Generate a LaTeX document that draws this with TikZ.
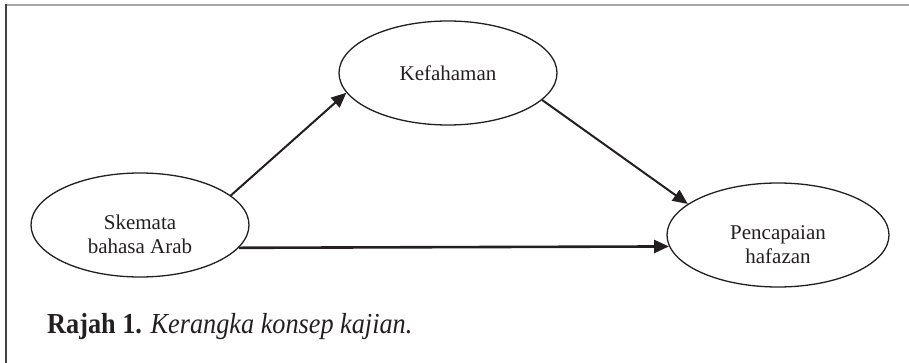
\documentclass[tikz,border=0pt]{standalone}
\usepackage{fontspec}
\setmainfont{Liberation Serif}
\usetikzlibrary{shapes.geometric,arrows.meta}
\definecolor{inkgray}{RGB}{35,31,32}

\begin{document}
\begin{tikzpicture}[x=1pt,y=-1pt,
    concept/.style ={ellipse, draw=inkgray, line width=1.3pt, minimum width=218pt,
                     minimum height=104pt, inner sep=0pt, align=center,
                     text=inkgray, font=\fontsize{21}{24}\selectfont},
    link/.style ={draw=inkgray, line width=2pt, -{Triangle[length=15pt,width=13pt]}}]
   \useasboundingbox (0,0) rectangle (909,363);
   % frame
   \draw[gray!70, line width=1.5pt] (5,5) -- (909,5);
   \draw[inkgray!85, line width=1.5pt] (6,4.3) -- (6,363);
   % ellipses
   \node[concept] (S) at (140,225) {\rule{0pt}{33pt}Skemata\\bahasa Arab};
   \node[concept] (K) at (448,73)  {Kefahaman};
   \node[concept, minimum width=222pt] (P) at (778,235) {\rule{0pt}{33pt}Pencapaian\\hafazan};
   % arrows
   \draw[link] (S.18) to (K.191);
   \draw[link] (K.-16) to (P.161);
   \draw[link, line width=2.6pt] (S.-13) to (P.186);
   % caption
   \node[anchor=base west, inner sep=0pt, text=inkgray] (C) at (47,333)
     {\scalebox{0.905}[1]{\fontsize{29}{34}\selectfont\textbf{Rajah 1.} \textit{Kerangka konsep kajian.}}};
\end{tikzpicture}
\end{document}
